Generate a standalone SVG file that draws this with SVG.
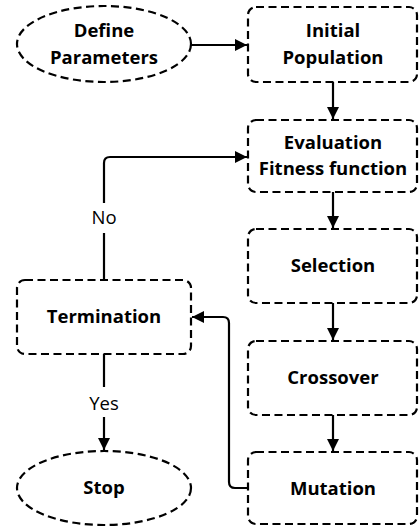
<svg xmlns="http://www.w3.org/2000/svg" width="420" height="532" viewBox="0 0 420 532">
<style>
.shape{fill:#fff;stroke:#000;stroke-width:2.2;stroke-dasharray:8 4.5}
.lbl{font-family:"Open Sans","Liberation Sans",sans-serif;font-weight:700;font-size:18.5px;text-anchor:middle;fill:#000}
.edge{fill:none;stroke:#000;stroke-width:2.2}
.elbl{font-family:"Open Sans","Liberation Sans",sans-serif;font-weight:400;font-size:18.5px;text-anchor:middle;fill:#000}
</style>
<defs>
<marker id="arr" markerUnits="userSpaceOnUse" markerWidth="13" markerHeight="13" refX="12" refY="6" orient="auto">
<path d="M0,0 L12,6 L0,12 z" fill="#000"/>
</marker>
</defs>
<rect width="420" height="532" fill="#fff"/>
<g id="connectors">
<path class="edge" d="M191,45 H247" marker-end="url(#arr)"/>
<path class="edge" d="M333,82 V119" marker-end="url(#arr)"/>
<path class="edge" d="M333,192 V228" marker-end="url(#arr)"/>
<path class="edge" d="M333,303 V340" marker-end="url(#arr)"/>
<path class="edge" d="M333,415 V451" marker-end="url(#arr)"/>
<path class="edge" d="M248,488 H235 Q229,488 229,482 V323 Q229,317 223,317 H192" marker-end="url(#arr)"/>
<path class="edge" d="M104,280 V233"/>
<path class="edge" d="M104,203 V163 Q104,157 110,157 H247" marker-end="url(#arr)"/>
<text class="elbl" x="104" y="224">No</text>
<path class="edge" d="M104,354 V387"/>
<path class="edge" d="M104,417 V450" marker-end="url(#arr)"/>
<text class="elbl" x="104" y="410">Yes</text>
</g>
<g id="define">
<ellipse class="shape" cx="104" cy="44" rx="87" ry="38"/>
<text class="lbl" x="104" y="37">Define</text>
<text class="lbl" x="104" y="64">Parameters</text>
</g>
<g id="initial">
<rect class="shape" x="248" y="7" width="169" height="75" rx="8"/>
<text class="lbl" x="333" y="37">Initial</text>
<text class="lbl" x="333" y="64">Population</text>
</g>
<g id="evaluation">
<rect class="shape" x="248" y="120" width="169" height="72" rx="8"/>
<text class="lbl" x="333" y="149">Evaluation</text>
<text class="lbl" x="333" y="175">Fitness function</text>
</g>
<g id="selection">
<rect class="shape" x="248" y="229" width="169" height="74" rx="8"/>
<text class="lbl" x="333" y="272">Selection</text>
</g>
<g id="crossover">
<rect class="shape" x="248" y="341" width="169" height="74" rx="8"/>
<text class="lbl" x="333" y="384">Crossover</text>
</g>
<g id="mutation">
<rect class="shape" x="248" y="452" width="169" height="72" rx="8"/>
<text class="lbl" x="333" y="495">Mutation</text>
</g>
<g id="termination">
<rect class="shape" x="17" y="280" width="174" height="74" rx="8"/>
<text class="lbl" x="104" y="323">Termination</text>
</g>
<g id="stop">
<ellipse class="shape" cx="104" cy="488" rx="87" ry="37"/>
<text class="lbl" x="104" y="494">Stop</text>
</g>
</svg>
